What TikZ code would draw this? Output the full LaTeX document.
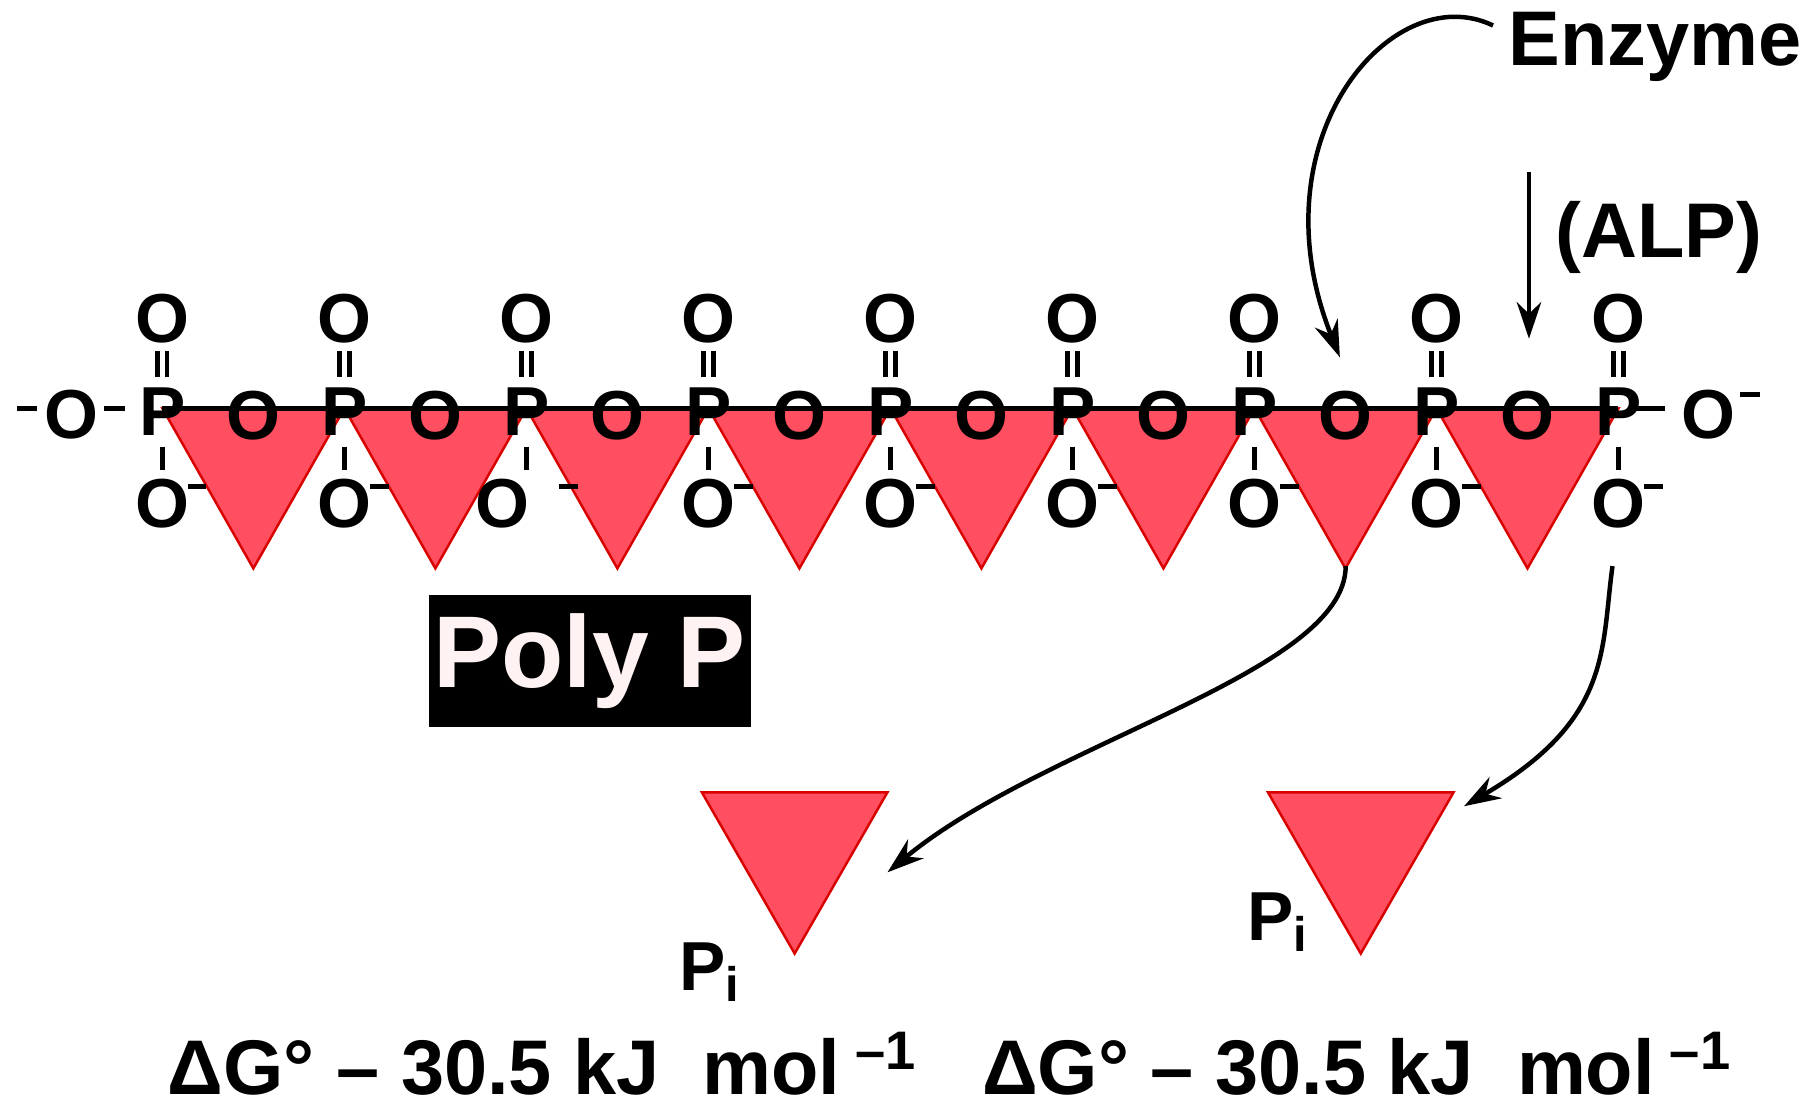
\documentclass[tikz,border=0pt]{standalone}
\usepackage{fontspec}
\setmainfont{Liberation Sans}
\usetikzlibrary{arrows.meta}
\definecolor{tri}{HTML}{FF4F60}
\begin{document}
\begin{tikzpicture}[x=0.01cm,y=-0.01cm,
 atm/.style={font=\bfseries\fontsize{17}{17}\selectfont,inner sep=0pt},
 big/.style={font=\bfseries\fontsize{25}{25}\selectfont,inner sep=0pt},
 trist/.style={fill=tri,draw=red!85!black,line width=0.6pt},
 arr/.style={-{Stealth[length=9pt,width=6pt]},line width=1.1pt}]
\useasboundingbox (0,0) rectangle (1568,965);
\foreach \i in {0,...,7}{
 \pgfmathsetmacro{\xa}{140+\i*156.9}
 \pgfmathsetmacro{\xb}{\xa+156.9}
 \pgfmathsetmacro{\xm}{\xa+78.4}
 \filldraw[trist] (\xa,352) -- (\xb,352) -- (\xm,490) -- cycle;
}
\draw[line width=1.2pt] (140,352) -- (1395,352);
\foreach \i in {0,...,7}{
 \pgfmathsetmacro{\xm}{140+\i*156.9+78.4}
 \node[atm] (b\i) at (\xm,358) {O};
}
\foreach \i in {0,...,8}{
 \pgfmathsetmacro{\x}{140+\i*156.9}
 \node[atm] (p\i) at (\x,355) {P};
 \node[atm] (t\i) at (\x,275) {O};
 \draw[line width=1.2pt] (\x-4,303) -- (\x-4,325) (\x+4,303) -- (\x+4,325);
 \draw[line width=1.2pt] (\x,385) -- (\x,405);
}
\foreach \i in {0,1,3,4,5,6,7,8}{
 \pgfmathsetmacro{\x}{140+\i*156.9}
 \node[atm] (d\i) at (\x,434) {O};
 \draw[line width=1.2pt] (\x+22,419) -- (\x+38,419);
}
\node[atm] (d2) at (433,434) {O};
\draw[line width=1.2pt] (482,419) -- (498,419);
\node[atm] (lo) at (62,357) {O};
\draw[line width=1.2pt] (15,352)--(32,352) (90,352)--(108,352);
\node[atm] (ro) at (1473,357) {O};
\draw[line width=1.2pt] (1410,352)--(1435,352) (1500,340)--(1517,340);
\fill[black] (370,513) rectangle (647,627);
\node[big,text=white!95!red] (poly) at (508,570) {Poly P};
\filldraw[trist] (605,683) -- (765,683) -- (685,822) -- cycle;
\filldraw[trist] (1093,683) -- (1253,683) -- (1173,822) -- cycle;
\coordinate (tr1) at (765,752);
\coordinate (tr2) at (1262,695);
\node[atm] (pi1) at (612,838) {P\textsubscript{i}};
\node[atm] (pi2) at (1102,795) {P\textsubscript{i}};
\node[atm,font=\bfseries\fontsize{19}{19}\selectfont] (g1) at (468,917) {ΔG° – 30.5 kJ\ \ mol\textsuperscript{ –1}};
\node[atm,font=\bfseries\fontsize{19}{19}\selectfont] (g2) at (1170,917) {ΔG° – 30.5 kJ\ \ mol\textsuperscript{ –1}};
\node[atm,font=\bfseries\fontsize{19}{19}\selectfont,anchor=west] (enz) at (1300,40) {Enzyme};
\node[atm,font=\bfseries\fontsize{19}{19}\selectfont,anchor=west] (alp) at (1340,205) {(ALP)};
\coordinate (e1) at (1287,22);
\coordinate (e2) at (1155,308);
\draw[arr] (e1) .. controls (1200,-20) and (1080,120) .. (e2);
\coordinate (a1) at (1318,148);
\coordinate (a2) at (1318,292);
\draw[arr] (a1) -- (a2);
\coordinate (s1) at (1160,488);
\coordinate (s2) at (1390,488);
\draw[arr] (s1) .. controls (1160,580) and (900,640) .. (tr1);
\draw[arr] (s2) .. controls (1380,560) and (1390,620) .. (tr2);
\end{tikzpicture}
\end{document}
